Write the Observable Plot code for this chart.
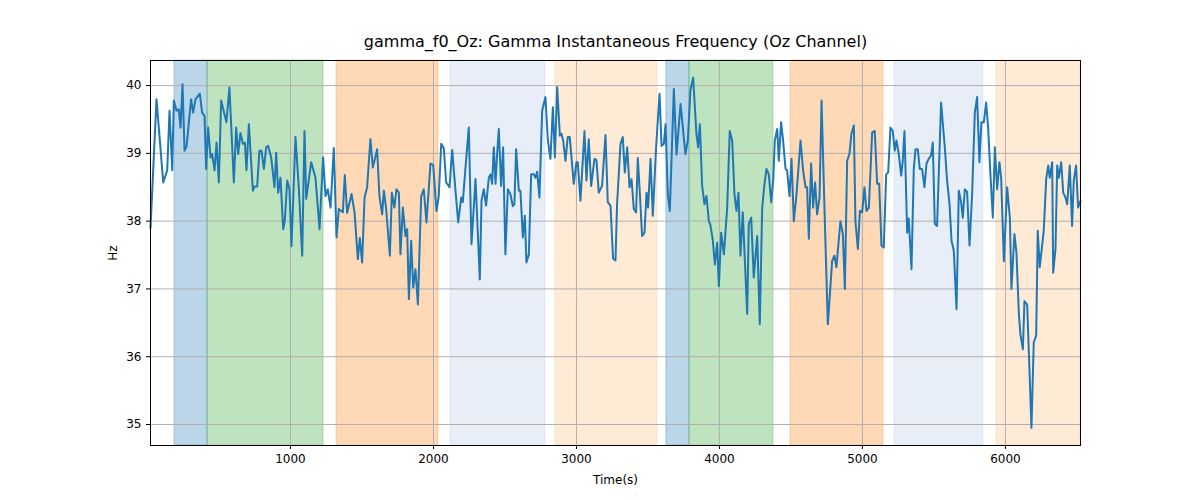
<!DOCTYPE html>
<html><head><meta charset="utf-8">
<script src="https://cdn.jsdelivr.net/npm/d3@7"></script>
<script src="https://cdn.jsdelivr.net/npm/@observablehq/plot@0.6"></script>
<style>body{margin:0;background:#fff;font-family:"DejaVu Sans",sans-serif}</style>
</head><body><div id="chart"></div>
<script>
const times = [21,63,110,138,154,173,184,203,219,231,245,259,273,305,319,336,366,382,399,410,424,441,452,469,483,499,515,552,573,604,620,634,650,667,681,692,709,737,748,767,783,797,814,830,844,865,888,900,914,930,949,960,977,993,1007,1035,1058,1082,1098,1110,1145,1175,1203,1228,1245,1261,1280,1303,1322,1338,1366,1380,1396,1427,1448,1471,1485,1501,1518,1536,1559,1576,1606,1622,1641,1653,1669,1695,1709,1727,1741,1758,1769,1786,1804,1816,1828,1844,1858,1874,1891,1914,1932,1951,1979,1998,2021,2037,2054,2072,2089,2112,2131,2154,2173,2194,2205,2224,2247,2266,2294,2324,2336,2352,2368,2387,2399,2410,2422,2434,2445,2457,2473,2487,2503,2520,2538,2555,2566,2578,2597,2608,2625,2639,2650,2667,2683,2702,2713,2725,2741,2760,2783,2800,2818,2835,2849,2865,2884,2895,2907,2923,2939,2953,2981,3000,3009,3028,3056,3070,3086,3103,3126,3140,3156,3179,3203,3219,3238,3256,3273,3284,
3308,3324,3338,3355,3371,3385,3401,3417,3429,3443,3459,3476,3490,3501,3518,3534,3557,3581,3595,3611,3623,3639,3653,3681,3700,3728,3744,3762,3779,3797,3816,3839,3851,3863,3879,3895,3909,3926,3937,3954,3968,3984,3996,4012,4031,4054,4072,4089,4105,4119,4133,4147,4163,4194,4205,4222,4240,4264,4282,4299,4315,4329,4345,4362,4376,4387,4404,4415,4431,4445,4462,4473,4490,4504,4520,4539,4567,4585,4602,4613,4625,4641,4655,4669,4683,4700,4714,4737,4758,4788,4804,4818,4846,4863,4877,4893,4909,4923,4940,4951,4968,4982,4998,5014,5028,5045,5068,5086,5103,5117,5133,5149,5166,5180,5196,5212,5226,5238,5254,5271,5282,5294,5313,5324,5343,5359,5371,5387,5401,5417,5434,5448,5464,5480,5492,5506,5522,5550,5576,5592,5609,5623,5639,5658,5674,5690,5702,5716,5732,5749,5767,5786,5802,5818,5832,5849,5865,5879,5895,5912,5926,5942,5958,5970,5989,6012,6031,6042,6063,6077,6094,6105,6122,6133,6152,6170,6182,6198,6215,6226,6240,6268,6285,6299,6310,6327,6334,6350,6362,6373,6390,6404,6420,6432,6450,6466,6478,6494,6508,6525];
const values = [37.9,39.8,38.57,38.75,39.63,38.75,39.78,39.63,39.65,39.38,40.02,39.04,39.1,39.8,39.6,39.8,39.88,39.6,39.55,38.77,39.38,38.94,38.99,38.75,39.16,38.57,39.78,39.46,39.97,38.57,39.38,38.99,39.3,39.14,39.16,38.75,39.43,38.45,38.51,38.51,39.04,39.04,38.77,39.09,39.11,38.94,38.5,39.01,38.42,38.64,37.88,38.0,38.6,38.47,37.63,39.24,38.5,37.49,39.33,38.33,38.87,38.64,37.88,38.94,38.37,38.47,38.2,39.08,37.76,38.18,38.13,38.68,38.12,38.4,38.13,37.44,37.75,37.39,38.35,38.5,39.21,38.79,39.06,38.37,38.1,38.45,38.18,37.49,38.42,38.2,38.47,38.42,37.51,38.2,37.78,37.88,36.85,37.71,37.02,37.29,36.77,38.37,38.47,37.98,38.85,38.83,38.15,38.37,39.14,39.08,38.57,38.5,39.05,38.45,37.98,38.35,38.28,38.79,39.38,37.66,38.62,37.14,38.3,38.47,38.23,38.64,38.69,38.55,39.09,38.55,38.99,39.36,38.52,39.09,37.51,38.47,38.4,38.22,38.25,39.06,38.45,38.45,37.76,38.08,37.39,37.51,38.69,38.69,38.64,38.73,38.35,39.63,39.83,39.19,38.92,39.68,38.94,39.98,39.26,39.29,39.19,38.89,39.24,39.24,38.55,38.87,38.87,38.3,39.33,38.6,39.21,38.52,38.92,38.9,38.42,38.52,39.27,38.28,38.23,37.45,37.42,38.25,
39.14,39.24,38.72,39.09,38.5,38.62,38.18,38.13,38.93,38.42,37.78,37.83,38.42,38.2,38.92,38.08,39.09,39.88,39.11,39.14,39.43,38.4,38.15,39.95,38.98,39.73,39.38,38.99,39.19,39.93,40.12,39.29,39.09,39.43,38.52,38.25,38.37,38.0,37.94,37.71,37.36,37.68,37.04,37.83,37.51,38.2,39.33,39.19,38.4,38.15,38.42,37.49,38.13,36.63,37.96,38.05,37.17,37.78,36.48,38.2,38.55,38.77,38.69,38.28,38.6,39.19,39.36,38.89,39.46,39.19,38.77,38.75,38.37,38.92,38.0,38.4,39.19,38.75,38.5,38.5,37.74,38.85,38.2,38.57,38.1,38.35,39.78,38.0,36.48,37.41,37.49,37.32,38.0,37.81,37.0,38.89,38.99,39.29,39.41,38.0,37.59,38.15,38.13,38.5,38.15,38.2,39.31,39.33,38.55,38.55,37.64,37.61,38.69,38.72,39.38,39.33,39.04,39.19,38.99,38.67,38.89,39.33,37.83,38.04,37.29,38.77,39.06,39.06,38.77,38.77,38.5,38.85,38.92,38.97,39.16,37.96,37.93,39.75,39.09,38.6,38.25,37.71,37.56,36.7,38.45,38.28,38.05,38.47,38.43,37.64,38.4,39.6,39.83,38.87,39.46,39.46,39.75,39.38,38.69,38.05,39.09,38.47,38.87,38.64,37.41,38.5,38.05,37.0,37.81,37.54,36.63,36.33,36.11,36.82,36.77,35.69,34.95,36.21,36.31,37.86,37.32,37.86,38.62,38.82,38.64,38.87,37.24,37.59,38.82,38.64,38.87,38.42,38.35,38.25,38.82,37.93,38.6,38.82,38.2,38.3];
const bandStart = [189,420,1322,2119,2853,3629,3790,4497,5224,5937];
const bandEnd   = [420,1231,2035,2783,3566,3790,4378,5147,5846,6525];
const bandColor = ["#1f77b4","#2ca02c","#ff7f0e","#aec7e8","#ffbb78","#1f77b4","#2ca02c","#ff7f0e","#aec7e8","#ffbb78"];
const xTicks = [1000,2000,3000,4000,5000,6000];
const yTicks = [35,36,37,38,39,40];

const series = times.map((t,i)=>({t, v: values[i]}));
const bands = bandStart.map((s,i)=>({s, e: bandEnd[i], c: bandColor[i]}));

const chart = Plot.plot({
  width: 1200, height: 500,
  marginLeft: 150, marginRight: 120, marginTop: 60, marginBottom: 55,
  style: {fontFamily: "DejaVu Sans, sans-serif", fontSize: "12px", color: "#000", background: "#fff"},
  x: {domain: [21, 6525], ticks: xTicks, tickFormat: d => String(d), label: "Time(s)", labelAnchor: "center", labelArrow: "none", labelOffset: 38, tickSize: 4},
  y: {domain: [34.69, 40.37], ticks: yTicks, tickFormat: d => String(d), label: "Hz", labelAnchor: "center", labelArrow: "none", labelOffset: 42, tickSize: 4},
  marks: [
    Plot.rectY(bands, {x1: "s", x2: "e", y1: 34.69, y2: 40.37, fill: "c", fillOpacity: 0.3, stroke: "c", strokeOpacity: 0.3}),
    Plot.gridX(xTicks, {stroke: "#b0b0b0", strokeOpacity: 1, strokeWidth: 1}),
    Plot.gridY(yTicks, {stroke: "#b0b0b0", strokeOpacity: 1, strokeWidth: 1}),
    Plot.line(series, {x: "t", y: "v", stroke: "#1f77b4", strokeWidth: 2}),
    Plot.frame({stroke: "#000"}),
    Plot.text(["gamma_f0_Oz: Gamma Instantaneous Frequency (Oz Channel)"], {frameAnchor: "top", dy: -14, lineAnchor: "bottom", fontSize: 16, fill: "#000"})
  ]
});
document.getElementById("chart").appendChild(chart);
</script></body></html>
